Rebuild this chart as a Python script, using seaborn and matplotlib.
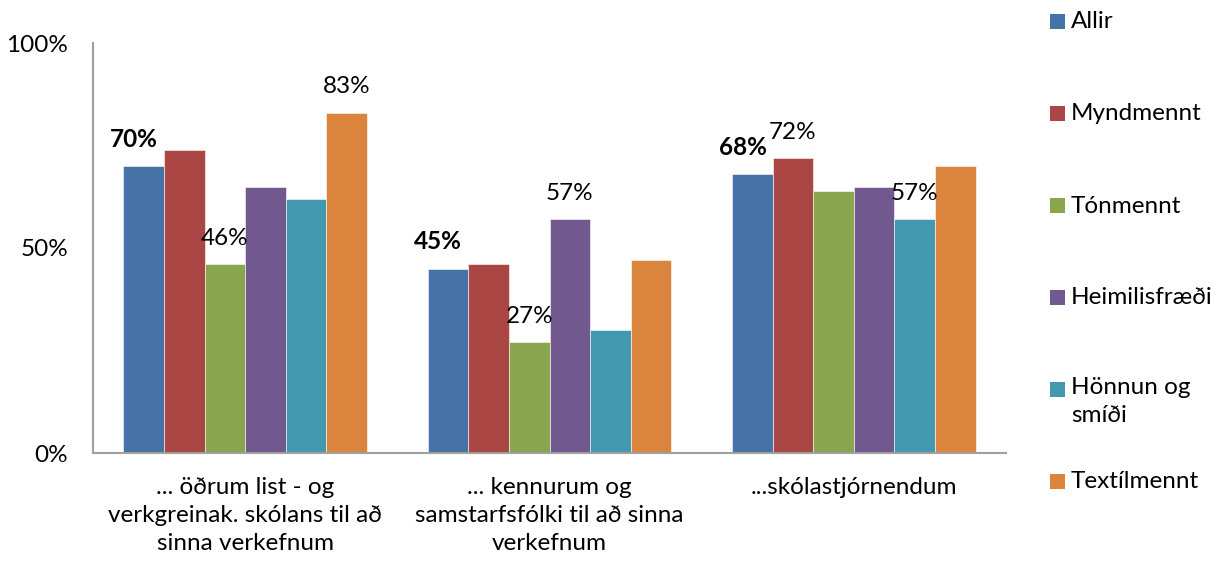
import matplotlib
matplotlib.use("Agg")
import matplotlib.pyplot as plt
import seaborn as sns
import pandas as pd
from matplotlib.patches import Rectangle

categories = ["... öðrum list - og\nverkgreinak. skólans til að\nsinna verkefnum",
              "... kennurum og\nsamstarfsfólki til að sinna\nverkefnum",
              "...skólastjórnendum"]
series = ["Allir", "Myndmennt", "Tónmennt", "Heimilisfræði", "Hönnun og\nsmíði", "Textílmennt"]
allir = [70, 45, 68]
myndmennt = [74, 46, 72]
tonmennt = [46, 27, 64]
heimilisfraedi = [65, 57, 65]
honnun = [62, 30, 57]
textil = [83, 47, 70]
# which values carry a data label (per series, per category)
shown = {
    "Allir": [True, True, True],
    "Myndmennt": [False, False, True],
    "Tónmennt": [True, True, False],
    "Heimilisfræði": [False, True, False],
    "Hönnun og\nsmíði": [False, False, True],
    "Textílmennt": [True, False, False],
}
colors = ["#4572A7", "#AA4643", "#89A54E", "#71588F", "#4198AF", "#DB843D"]

values = [allir, myndmennt, tonmennt, heimilisfraedi, honnun, textil]
rows = []
for s, vals in zip(series, values):
    for c, v in zip(categories, vals):
        rows.append({"cat": c, "series": s, "val": v})
df = pd.DataFrame(rows)

sns.set_theme(style="white")
plt.rcParams['font.family'] = ['Lato', 'DejaVu Sans']
plt.rcParams['text.color'] = 'black'
plt.rcParams['xtick.color'] = 'black'
plt.rcParams['ytick.color'] = 'black'

FS = 17.5

fig = plt.figure(figsize=(12.26, 5.65), dpi=100)
ax = fig.add_axes([93/1226, 1 - 453/565, (1006-93)/1226, (453-43)/565])

sns.barplot(data=df, x="cat", y="val", hue="series", order=categories,
            hue_order=series, palette=colors, saturation=1, width=0.8,
            ax=ax, legend=False, edgecolor="white", linewidth=0.4)

for s, cont in zip(series, ax.containers):
    vals = df[df.series == s]["val"].tolist()
    labels = [f"{v}%" if sh else "" for v, sh in zip(vals, shown[s])]
    bold = (s == "Allir")
    texts = ax.bar_label(cont, labels=labels, padding=11, fontsize=FS,
                         fontweight="bold" if bold else "normal", color="black")
    if bold:
        for t in texts:
            t.set_x(t.get_position()[0])
            x0, y0 = t.xyann
            t.xyann = (x0 - 7, y0)

ax.set_ylim(0, 100)
ax.set_yticks([0, 50, 100])
ax.set_yticklabels(["0%", "50%", "100%"], fontsize=FS)
ax.tick_params(axis="y", length=0, pad=18)
ax.tick_params(axis="x", length=0, pad=17)
for lab in ax.get_xticklabels():
    lab.set_fontsize(FS)
    lab.set_linespacing(1.42)
ax.set_xlabel("")
ax.set_ylabel("")
for sp in ["top", "right"]:
    ax.spines[sp].set_visible(False)
for sp in ["left", "bottom"]:
    ax.spines[sp].set_color("#A0A0A0")
    ax.spines[sp].set_linewidth(1.5)

# legend (manual, matching the reference layout)
leg_y = [22, 114, 206, 298, 390, 482]
for s, c, y in zip(series, colors, leg_y):
    fig.patches.append(Rectangle((1050/1226, 1 - (y + 7)/565), 15/1226, 15/565,
                                 transform=fig.transFigure, facecolor=c, edgecolor="none"))
    if "\n" in s:
        fig.text(1071/1226, 1 - (y - 13)/565, s, fontsize=FS, va="top", ha="left",
                 linespacing=1.42)
    else:
        fig.text(1071/1226, 1 - y/565, s, fontsize=FS, va="center", ha="left")

fig.savefig("out.png", dpi=100)
